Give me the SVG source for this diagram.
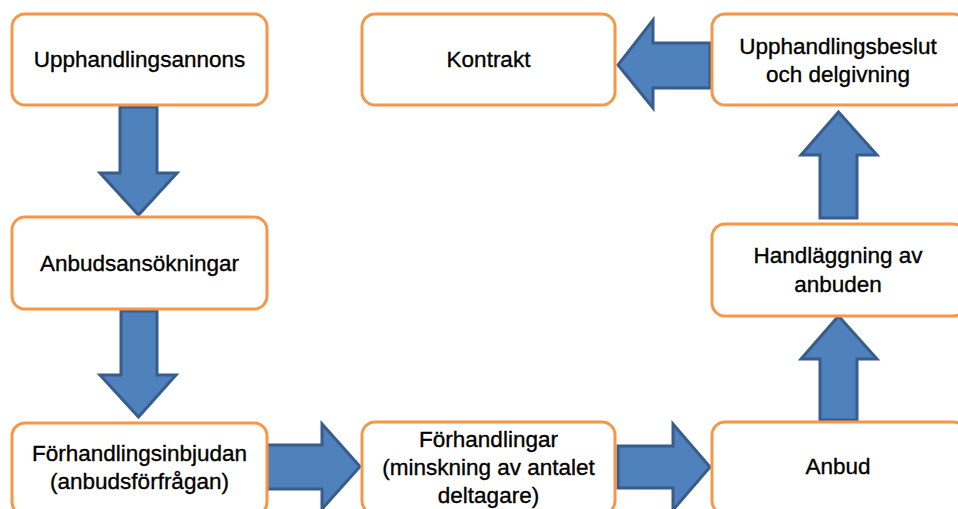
<svg xmlns="http://www.w3.org/2000/svg" width="958" height="509" viewBox="0 0 958 509">
<style>
.box{fill:#FFFFFF;stroke:#F79646;stroke-width:3}
.arr{fill:#4F81BD;stroke:#385D8A;stroke-width:3;stroke-linejoin:miter}
.t{font-family:"Liberation Sans",Arial,sans-serif;font-size:22.5px;fill:#000000;stroke:#000000;stroke-width:0.35;text-anchor:middle}
</style>
<rect width="958" height="509" fill="#FFFFFF"/>
<g id="connectors">
<polygon class="arr" points="120,107 157,107 157,173 177,173 138.5,215 100,173 120,173"/>
<polygon class="arr" points="121,311 157,311 157,375 176,375 138.5,417 100,375 121,375"/>
<polygon class="arr" points="266,445 322,445 322,424 360,466.5 322,509 322,489 266,489"/>
<polygon class="arr" points="618,446 673,446 673,424 710,467 673,510 673,488 618,488"/>
<polygon class="arr" points="820,218 857,218 857,155 877,155 838.5,112 801,155 820,155"/>
<polygon class="arr" points="820,420 857,420 857,359 877,359 838.5,316 801,359 820,359"/>
<polygon class="arr" points="710,43 653,43 653,20 618,65 653,108 653,88 710,88"/>
</g>
<g id="n1">
<rect class="box" x="12" y="14" width="255" height="91" rx="13"/>
<text class="t" x="139.5" y="67">Upphandlingsannons</text>
</g>
<g id="n2">
<rect class="box" x="12" y="217" width="255" height="92" rx="13"/>
<text class="t" x="139.5" y="271">Anbudsansökningar</text>
</g>
<g id="n3">
<rect class="box" x="12" y="423" width="255" height="92" rx="13"/>
<text class="t" x="139.5" y="461">Förhandlingsinbjudan</text>
<text class="t" x="139.5" y="489">(anbudsförfrågan)</text>
</g>
<g id="n4">
<rect class="box" x="362" y="422" width="253" height="92" rx="13"/>
<text class="t" x="488.5" y="447">Förhandlingar</text>
<text class="t" x="488.5" y="475">(minskning av antalet</text>
<text class="t" x="488.5" y="503">deltagare)</text>
</g>
<g id="n5">
<rect class="box" x="712" y="422" width="254" height="92" rx="13"/>
<text class="t" x="838" y="474">Anbud</text>
</g>
<g id="n6">
<rect class="box" x="712" y="224" width="254" height="92" rx="13"/>
<text class="t" x="838" y="263">Handläggning av</text>
<text class="t" x="838" y="292">anbuden</text>
</g>
<g id="n7">
<rect class="box" x="712" y="14" width="254" height="91" rx="13"/>
<text class="t" x="838" y="54">Upphandlingsbeslut</text>
<text class="t" x="838" y="82">och delgivning</text>
</g>
<g id="n8">
<rect class="box" x="362" y="14" width="253" height="91" rx="13"/>
<text class="t" x="488.5" y="67">Kontrakt</text>
</g>
</svg>
